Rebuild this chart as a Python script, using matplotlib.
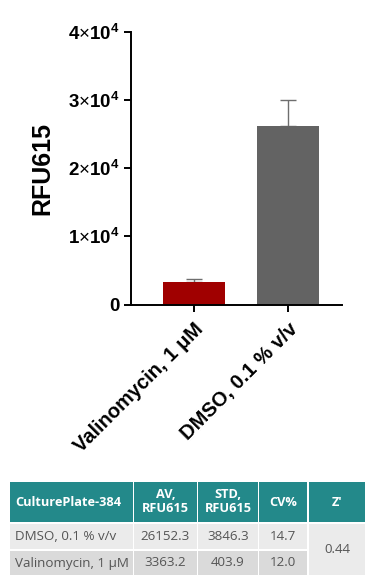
import matplotlib
matplotlib.use("Agg")
import matplotlib.pyplot as plt
from matplotlib.patches import Rectangle

# ---------------- data ----------------
categories = ["Valinomycin, 1 \u03bcM", "DMSO, 0.1 % v/v"]
means = [3363.2, 26152.3]
stds = [403.9, 3846.3]
bar_colors = ["#a00000", "#636363"]
y_ticks = [0, 10000, 20000, 30000, 40000]
y_tick_labels = ["0", r"$1\mathsf{\times}10^{4}$", r"$2\mathsf{\times}10^{4}$",
                 r"$3\mathsf{\times}10^{4}$", r"$4\mathsf{\times}10^{4}$"]
y_label = "RFU615"

table_header = ["CulturePlate-384", "AV,\nRFU615", "STD,\nRFU615", "CV%", "Z\u2032"]
table_rows = [
    ["DMSO, 0.1 % v/v", "26152.3", "3846.3", "14.7"],
    ["Valinomycin, 1 \u03bcM", "3363.2", "403.9", "12.0"],
]
z_prime = "0.44"

# ---------------- style ----------------
plt.rcParams["font.family"] = ["Liberation Sans", "DejaVu Sans"]
plt.rcParams["mathtext.fontset"] = "custom"
plt.rcParams["mathtext.rm"] = "Liberation Sans:bold"
plt.rcParams["mathtext.it"] = "Liberation Sans:bold"
plt.rcParams["mathtext.bf"] = "Liberation Sans:bold"
plt.rcParams["mathtext.sf"] = "Liberation Sans"

W, H = 374, 585
fig = plt.figure(figsize=(W / 100, H / 100), dpi=100)
fig.patch.set_facecolor("white")

# ---------------- bar chart ----------------
ax_l, ax_r, ax_t, ax_b = 131, 342, 32, 304.5
ax = fig.add_axes([ax_l / W, 1 - ax_b / H, (ax_r - ax_l) / W, (ax_b - ax_t) / H])
x = list(range(len(categories)))
ax.bar(x, means, width=0.66, color=bar_colors, zorder=2)
ax.errorbar(x, means, yerr=[[0] * len(stds), stds], fmt="none",
            ecolor="#6e6e6e", elinewidth=1.0, capsize=5.5, capthick=1.0, zorder=1)
ax.set_xlim(-0.67, 1.574)
ax.set_ylim(0, 40000)
ax.set_yticks(y_ticks)
ax.set_yticklabels(y_tick_labels, fontsize=13.5, fontweight="bold")
ax.set_xticks(x)
ax.set_xticklabels(categories, fontsize=14.5, fontweight="bold", rotation=45,
                   ha="right", va="top", rotation_mode="anchor")
ax.set_ylabel(y_label, fontsize=18, fontweight="bold", labelpad=10)
for s in ["top", "right"]:
    ax.spines[s].set_visible(False)
for s in ["left", "bottom"]:
    ax.spines[s].set_linewidth(1.4)
ax.tick_params(axis="both", width=1.4, length=5, color="black", pad=3)
ax.tick_params(axis="x", pad=6)

# ---------------- table ----------------
tax = fig.add_axes([0, 0, 1, 1])
tax.set_xlim(0, W)
tax.set_ylim(H, 0)
tax.axis("off")

col_edges = [9, 133.5, 197.5, 258.5, 308, 366]
row_edges = [481, 523, 550, 576]
teal = "#23898a"
row_bg = ["#ebebeb", "#dadada"]
txt_col = "#555555"
gap = 0.8

def cell(c0, c1, r0, r1, color):
    tax.add_patch(Rectangle((col_edges[c0] + gap, row_edges[r0] + gap),
                            col_edges[c1] - col_edges[c0] - 2 * gap,
                            row_edges[r1] - row_edges[r0] - 2 * gap,
                            facecolor=color, edgecolor="none"))

tfont = ["Open Sans", "DejaVu Sans"]
fs_h = 9.2
fs_b = 9.6
for j, h in enumerate(table_header):
    cell(j, j + 1, 0, 1, teal)
    yc = (row_edges[0] + row_edges[1]) / 2
    if j == 0:
        tax.text(col_edges[0] + 6, yc, h, ha="left", va="center", color="white",
                 fontsize=fs_h, fontweight="bold", family=tfont)
    else:
        tax.text((col_edges[j] + col_edges[j + 1]) / 2, yc, h, ha="center", va="center",
                 color="white", fontsize=fs_h, fontweight="bold", family=tfont, linespacing=1.1)

for i, row in enumerate(table_rows):
    yc = (row_edges[i + 1] + row_edges[i + 2]) / 2
    for j, v in enumerate(row):
        cell(j, j + 1, i + 1, i + 2, row_bg[i])
        if j == 0:
            tax.text(col_edges[0] + 6, yc, v, ha="left", va="center", color=txt_col,
                     fontsize=fs_b, family=tfont)
        else:
            tax.text((col_edges[j] + col_edges[j + 1]) / 2, yc, v, ha="center", va="center",
                     color=txt_col, fontsize=fs_b, family=tfont)

cell(4, 5, 1, 3, row_bg[0])
tax.text((col_edges[4] + col_edges[5]) / 2, (row_edges[1] + row_edges[3]) / 2, z_prime,
         ha="center", va="center", color=txt_col, fontsize=fs_b, family=tfont)

fig.savefig("out.png", dpi=100)
